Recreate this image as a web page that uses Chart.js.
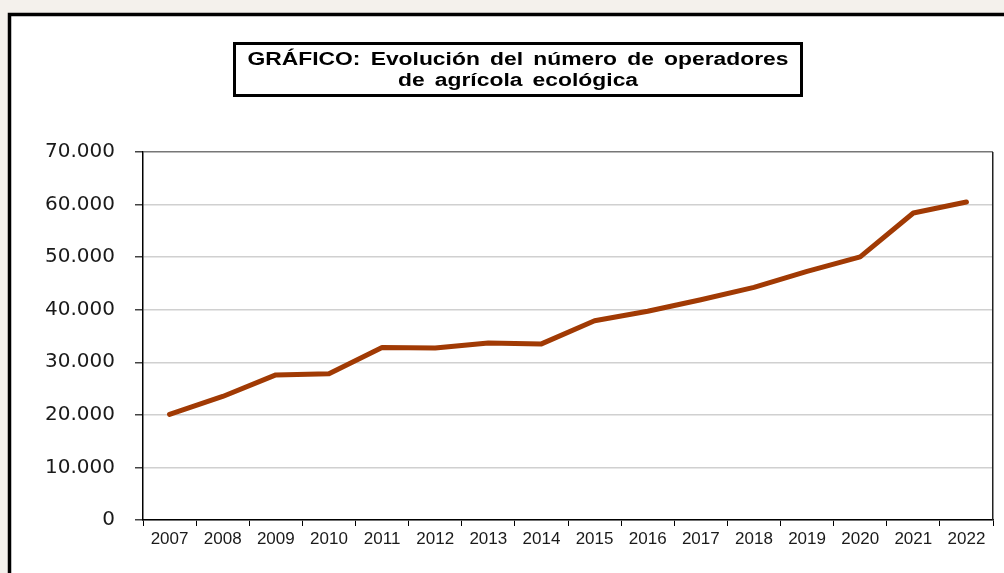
<!DOCTYPE html>
<html>
<head>
<meta charset="utf-8">
<script src="https://cdn.jsdelivr.net/npm/chart.js@4/dist/chart.umd.min.js"></script>
<style>
  html, body { margin: 0; padding: 0; background: #f4f1ec; }
  #wrap { width: 1004px; height: 573px; position: relative; }
</style>
</head>
<body>
<div id="wrap"><canvas id="chart" width="1004" height="573"></canvas></div>
<script>
// ====== 資料 ======
const YEARS = ['2007','2008','2009','2010','2011','2012','2013','2014',
               '2015','2016','2017','2018','2019','2020','2021','2022'];
const OPERADORES = [20100, 23500, 27600, 27800, 32800, 32700, 33650, 33500,
                    37900, 39700, 41900, 44250, 47300, 50050, 58400, 60500];
const Y_TICKS = [0, 10000, 20000, 30000, 40000, 50000, 60000, 70000];
const TITLE_LINES = ['GRÁFICO: Evolución del número de operadores', 'de agrícola ecológica'];

// ====== 顏色 ======
const LINE_COLOR = '#a13a04';
const GRID_COLOR = '#d0d0d0';

function fmtNum(v) {
  // 西班牙格式：千位用點
  return String(v).replace(/\B(?=(\d{3})+(?!\d))/g, '.');
}

// ====== 外框 + 標題框 ======
const framePlugin = {
  id: 'frame',
  beforeDraw(chart) {
    const { ctx, width, height } = chart;
    ctx.save();
    ctx.fillStyle = '#f4f1ec';
    ctx.fillRect(0, 0, width, height);
    ctx.fillStyle = '#ffffff';
    ctx.fillRect(9, 14, width - 9, height - 14);
    ctx.strokeStyle = '#000';
    ctx.lineWidth = 3.5;
    ctx.beginPath();
    ctx.moveTo(9.5, height);
    ctx.lineTo(9.5, 14.5);
    ctx.lineTo(width, 14.5);
    ctx.stroke();
    ctx.restore();
  },
  afterDraw(chart) {
    const { ctx, chartArea: { top, bottom, right } } = chart;
    ctx.save();
    // 繪圖區右框
    ctx.strokeStyle = '#222';
    ctx.lineWidth = 1.5;
    ctx.beginPath();
    ctx.moveTo(right - 0.25, top);
    ctx.lineTo(right - 0.25, bottom);
    ctx.stroke();

    // 標題框
    ctx.lineWidth = 3;
    ctx.strokeStyle = '#000';
    ctx.strokeRect(234.5, 43.5, 567, 52);

    // 標題文字（橫向拉寬）
    ctx.fillStyle = '#000';
    ctx.font = 'bold 18px "Liberation Sans", Arial, sans-serif';
    ctx.textAlign = 'center';
    ctx.textBaseline = 'alphabetic';
    ctx.wordSpacing = '3px';
    const cx = 518;
    const sx = 1.27;
    ctx.translate(cx, 0);
    ctx.scale(sx, 1);
    ctx.fillText(TITLE_LINES[0], 0, 65);
    ctx.fillText(TITLE_LINES[1], 0, 86);
    ctx.restore();
  }
};

Chart.register(framePlugin);

const ctx = document.getElementById('chart').getContext('2d');

new Chart(ctx, {
  type: 'line',
  data: {
    labels: YEARS,
    datasets: [{
      data: OPERADORES,
      borderColor: LINE_COLOR,
      borderWidth: 5,
      borderCapStyle: 'round',
      borderJoinStyle: 'round',
      pointRadius: 0,
      tension: 0,
      fill: false
    }]
  },
  options: {
    responsive: false,
    animation: false,
    devicePixelRatio: 1,
    layout: { padding: { top: 152, right: 11, left: 0, bottom: 23 } },
    plugins: {
      legend: { display: false },
      title: { display: false },
      tooltip: { enabled: false }
    },
    scales: {
      x: {
        offset: true,
        grid: {
          offset: true,
          drawOnChartArea: false,
          tickLength: 6,
          tickColor: '#000',
          lineWidth: 1
        },
        border: { color: '#000', width: 1.5 },
        ticks: {
          color: '#1a1a1a',
          padding: 3,
          maxRotation: 0,
          autoSkip: false,
          font: { family: '"Liberation Sans", Arial, sans-serif', size: 17 }
        },
        afterFit: s => { s.height = 30; }
      },
      y: {
        min: 0,
        max: 70000,
        afterBuildTicks: s => { s.ticks = Y_TICKS.map(v => ({ value: v })); },
        grid: {
          color: g => (g.tick && g.tick.value === 70000 ? '#777' : GRID_COLOR),
          lineWidth: g => (g.tick && g.tick.value === 70000 ? 1.5 : 1.5),
          tickLength: 8,
          tickColor: '#444'
        },
        border: { color: '#000', width: 1.5 },
        ticks: {
          color: '#1a1a1a',
          padding: 20,
          callback: v => fmtNum(v),
          font: { family: '"DejaVu Sans", sans-serif', size: 20 }
        },
        afterFit: s => { s.width = 143; }
      }
    }
  }
});
</script>
</body>
</html>
